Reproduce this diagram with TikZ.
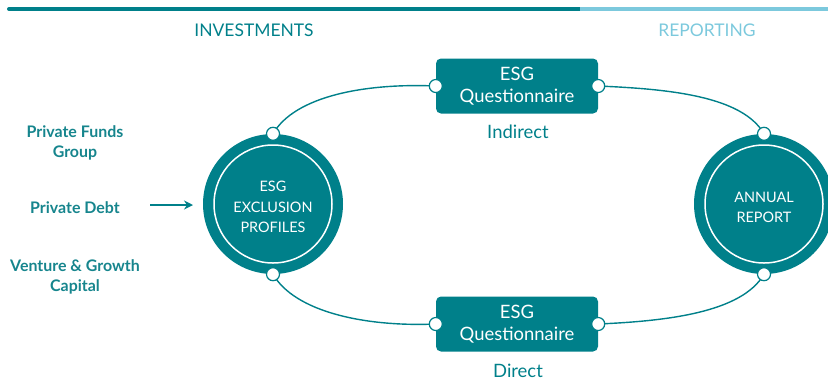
\documentclass[tikz,border=0pt]{standalone}
\usepackage{fontspec}
\setmainfont{Lato}
\usetikzlibrary{arrows.meta,backgrounds}
\definecolor{tealmain}{HTML}{00808A}
\definecolor{tealtext}{HTML}{16858D}
\definecolor{skyblue}{HTML}{7CC9DD}
\tikzset{
  bigdisc/.style={circle, fill=tealmain, minimum size=140bp, inner sep=0pt},
  disctext/.style={text=white, align=center, font=\fontsize{14.5}{20.5}\selectfont},
  ring/.style={draw=white, line width=1.5bp},
  qbox/.style={rectangle, rounded corners=5bp, fill=tealmain, minimum width=162bp,
    minimum height=55bp, inner sep=0pt, text=white, align=center,
    font=\fontsize{18.5}{22}\selectfont},
  joint/.style={circle, draw=tealmain, fill=white, line width=1.2bp, minimum size=13bp, inner sep=0pt},
  conn/.style={draw=tealmain, line width=1.4bp},
  fundlabel/.style={text=tealtext, align=center, font=\bfseries\fontsize{16}{20}\selectfont},
  sublabel/.style={text=tealmain, font=\fontsize{18.5}{20}\selectfont},
  heading/.style={font=\fontsize{17.5}{20}\selectfont},
  feed/.style={draw=tealmain, line width=1.4bp, -{Stealth[length=9bp,width=9bp]}}
}
\begin{document}
\begin{tikzpicture}[x=1bp,y=-1bp]
\useasboundingbox (0,0) rectangle (828,383);

% phase bar and headings
\draw[tealmain, line width=4bp, line cap=round] (9,9) -- (580,9);
\draw[skyblue, line width=4bp] (580,9) -- (830,9);
\node[heading, text=tealmain] (inv) at (254,30) {INVESTMENTS};
\node[heading, text=skyblue] (rep) at (707,30) {REPORTING};

% main stages
\node[bigdisc, label={[disctext, yshift=-3bp]center:ESG\\EXCLUSION\\PROFILES}] (excl) at (273,204) {};
\node[bigdisc, label={[disctext, yshift=-3.5bp]center:ANNUAL\\REPORT}] (annual) at (764,204) {};
\draw[ring] (excl.center) circle[radius=59];
\draw[ring] (annual.center) circle[radius=59];

\node[qbox] (qtop) at (517,86) {ESG\\Questionnaire};
\node[qbox] (qbot) at (517,324) {ESG\\Questionnaire};
\node[sublabel] (indirect) at (518,132) {Indirect};
\node[sublabel] (direct) at (518,371) {Direct};

% connectors between stages, behind the shapes
\begin{pgfonlayer}{background}
\path[conn] (excl.north) .. controls +(22,-38) and +(-70,-3) .. (qtop.west);
\path[conn] (qtop.east) .. controls +(70,3) and +(-22,-38) .. (annual.north);
\path[conn] (excl.south) .. controls +(22,38) and +(-70,3) .. (qbot.west);
\path[conn] (qbot.east) .. controls +(70,-3) and +(-22,38) .. (annual.south);
\end{pgfonlayer}

% joints
\node[joint] (j1) at (excl.north) {};
\node[joint] (j2) at (excl.south) {};
\node[joint] (j3) at (annual.north) {};
\node[joint] (j4) at (annual.south) {};
\node[joint] (j5) at (qtop.west) {};
\node[joint] (j6) at (qtop.east) {};
\node[joint] (j7) at (qbot.west) {};
\node[joint] (j8) at (qbot.east) {};

% fund groups
\node[fundlabel] (pfg) at (75,143) {Private Funds\\Group};
\node[fundlabel] (debt) at (75,207.5) {Private Debt};
\node[fundlabel] (vgc) at (75,277) {Venture \& Growth\\Capital};
\coordinate (feedstart) at (150,205);
\coordinate (feedend) at (193,205);
\draw[feed] (feedstart) -- (feedend);
\end{tikzpicture}
\end{document}
